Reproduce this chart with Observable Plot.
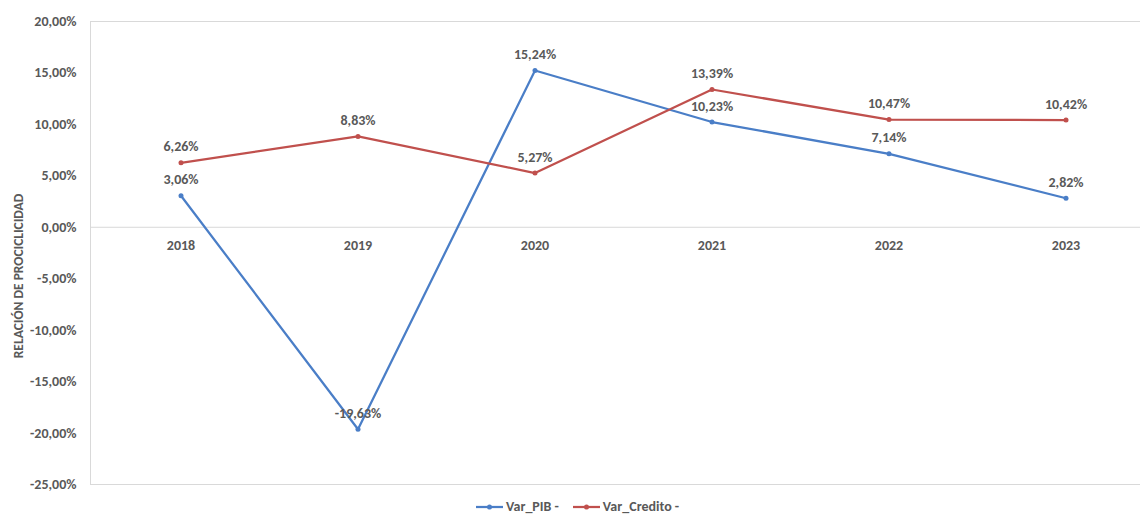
<!DOCTYPE html>
<html>
<head>
<meta charset="utf-8">
<script src="https://cdn.jsdelivr.net/npm/d3@7"></script>
<script src="https://cdn.jsdelivr.net/npm/@observablehq/plot@0.6"></script>
<style>
  html, body { margin: 0; padding: 0; background: #fff; }
  body { width: 1140px; height: 515px; position: relative; overflow: hidden; font-family: Carlito, Lato, "Open Sans", sans-serif; }
  #chart svg { display: block; }
  #legend { position: absolute; top: 498px; left: 476px; display: flex; align-items: center; font: bold 14px Carlito, Lato, sans-serif; color: #595959; }
  .item { display: flex; align-items: center; margin-right: 14px; }
  .item svg { margin-right: 3px; }
</style>
</head>
<body>
<div id="chart"></div>
<div id="legend"></div>
<script>
const years = ["2018", "2019", "2020", "2021", "2022", "2023"];
const varPIB = [3.06, -19.63, 15.24, 10.23, 7.14, 2.82];
const varCredito = [6.26, 8.83, 5.27, 13.39, 10.47, 10.42];
const seriesNames = ["Var_PIB -", "Var_Credito -"];
const seriesColors = ["#4A7EC7", "#C0504D"];
const yTicks = [-25, -20, -15, -10, -5, 0, 5, 10, 15, 20];
const yLabel = "RELACIÓN DE PROCICLICIDAD";

const rows = [];
years.forEach((y, i) => {
  rows.push({year: y, value: varPIB[i], series: seriesNames[0]});
  rows.push({year: y, value: varCredito[i], series: seriesNames[1]});
});
const fmt = v => v.toFixed(2).replace(".", ",") + "%";
const font = "Carlito, Lato, sans-serif";

const chart = Plot.plot({
  width: 1140,
  height: 495,
  marginLeft: 90,
  marginRight: -15,
  marginTop: 21,
  marginBottom: 11,
  style: {fontFamily: font, fontSize: "14px", fontWeight: "bold", color: "#595959", background: "#fff"},
  x: {type: "band", domain: years, padding: 0, axis: null},
  y: {domain: [-25, 20], ticks: yTicks, tickFormat: fmt},
  color: {domain: seriesNames, range: seriesColors},
  marks: [
    Plot.frame({stroke: "#d9d9d9", strokeWidth: 1}),
    Plot.ruleY([0], {stroke: "#d9d9d9", strokeWidth: 1}),
    Plot.axisY({ticks: yTicks, tickFormat: fmt, tickSize: 0, tickPadding: 14, label: null, fill: "#595959", fontWeight: "bold", fontSize: 14}),
    Plot.text([yLabel], {frameAnchor: "left", textAnchor: "middle", rotate: -90, dx: -72, dy: 23, fill: "#595959", fontWeight: "bold", fontSize: 13.5}),
    Plot.text(years, {x: d => d, y: () => 0, dy: 18, fill: "#595959", fontWeight: "bold", fontSize: 14}),
    Plot.line(rows, {x: "year", y: "value", z: "series", stroke: "series", strokeWidth: 2.25}),
    Plot.dot(rows, {x: "year", y: "value", fill: "series", r: 2.5}),
    Plot.text(rows, {x: "year", y: "value", text: d => fmt(d.value), dy: -16, fill: "#595959", fontWeight: "bold", fontSize: 14})
  ]
});
document.getElementById("chart").appendChild(chart);

const legend = document.getElementById("legend");
seriesNames.forEach((name, i) => {
  const item = document.createElement("div");
  item.className = "item";
  item.innerHTML = `<svg width="27" height="10"><line x1="0" y1="5" x2="27" y2="5" stroke="${seriesColors[i]}" stroke-width="2.25"/><circle cx="13.5" cy="5" r="2.5" fill="${seriesColors[i]}"/></svg><span>${name}</span>`;
  legend.appendChild(item);
});
</script>
</body>
</html>
